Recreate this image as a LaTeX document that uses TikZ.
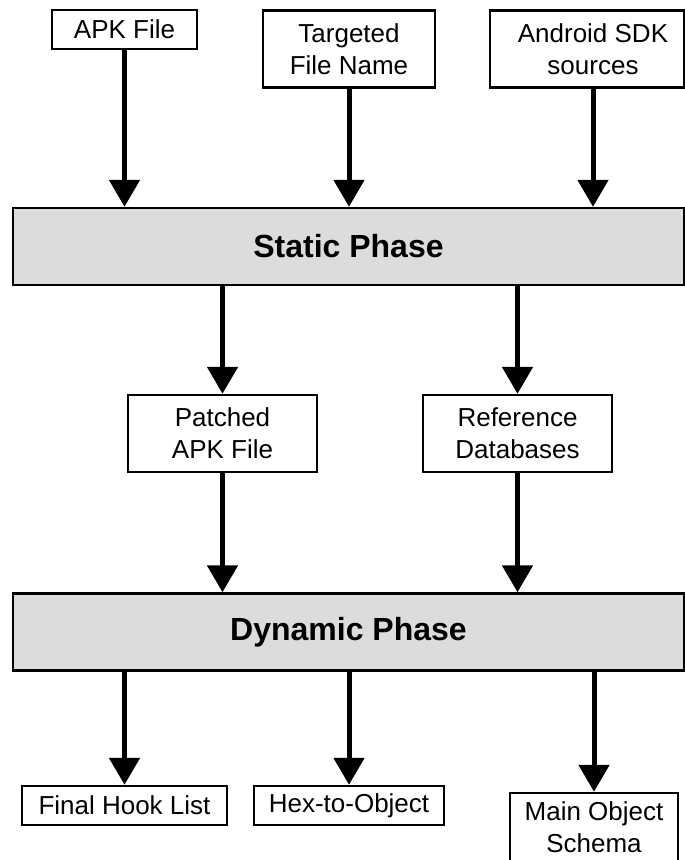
\documentclass[tikz,border=0pt]{standalone}
\usepackage{fontspec}
\setmainfont{Liberation Sans}
\usetikzlibrary{arrows.meta}
\definecolor{phasegray}{RGB}{220,220,220}
\begin{document}
\begin{tikzpicture}[x=1pt,y=-1pt,
  boxfont/.style={font=\fontsize{26}{32}\selectfont},
  box/.style={draw=black, line width=2.4pt, fill=white, inner sep=0pt,
    align=center, boxfont},
  phase/.style={draw=black, line width=2.4pt, fill=phasegray, inner sep=0pt,
    minimum width=671pt, minimum height=77pt,
    font=\fontsize{32}{38}\selectfont\bfseries},
  flow/.style={line width=5pt, -{Triangle[width=30pt,length=27pt]}}]
\useasboundingbox (0,0) rectangle (685,860);
\clip (0,0) rectangle (685,860);

% inputs
\node[box, minimum width=145pt, minimum height=39pt] (apk) at (124.5,29.5) {APK File};
\node[box, minimum width=172pt, minimum height=77pt] (tfn) at (349,49) {Targeted\\File Name};
\node[box, minimum width=194pt, minimum height=77pt] (sdk) at (587,49) {};
\node[align=center, inner sep=0pt, boxfont] (sdktext) at (593,49) {Android SDK\\sources};

% phases
\node[phase] (static) at (348.5,246.5) {Static Phase};
\node[phase] (dynamic) at (348.5,632) {Dynamic Phase};

% intermediate artefacts
\node[box, minimum width=189pt, minimum height=77pt] (patched) at (222.5,433.5) {Patched\\APK File};
\node[box, minimum width=189pt, minimum height=77pt] (refdb) at (517.5,433.5) {Reference\\Databases};

% outputs
\node[box, minimum width=205pt, minimum height=39pt] (hooks) at (124.5,805.5) {Final Hook List};
\node[box, minimum width=190pt, minimum height=39pt] (hex) at (349,805.5) {Hex-to-Object};
\node[box, minimum width=168pt, minimum height=68pt] (schema) at (594,827) {Main Object\\Schema};

% connectors
\draw[flow] (apk.south) -- (apk.south |- static.north);
\draw[flow] (tfn.south) -- (tfn.south |- static.north);
\draw[flow] (sdktext.south |- sdk.south) -- (sdktext.south |- static.north);
\draw[flow] (patched.north |- static.south) -- (patched.north);
\draw[flow] (refdb.north |- static.south) -- (refdb.north);
\draw[flow] (patched.south) -- (patched.south |- dynamic.north);
\draw[flow] (refdb.south) -- (refdb.south |- dynamic.north);
\draw[flow] (hooks.north |- dynamic.south) -- (hooks.north);
\draw[flow] (hex.north |- dynamic.south) -- (hex.north);
\draw[flow] (schema.north |- dynamic.south) -- (schema.north);
\end{tikzpicture}
\end{document}
